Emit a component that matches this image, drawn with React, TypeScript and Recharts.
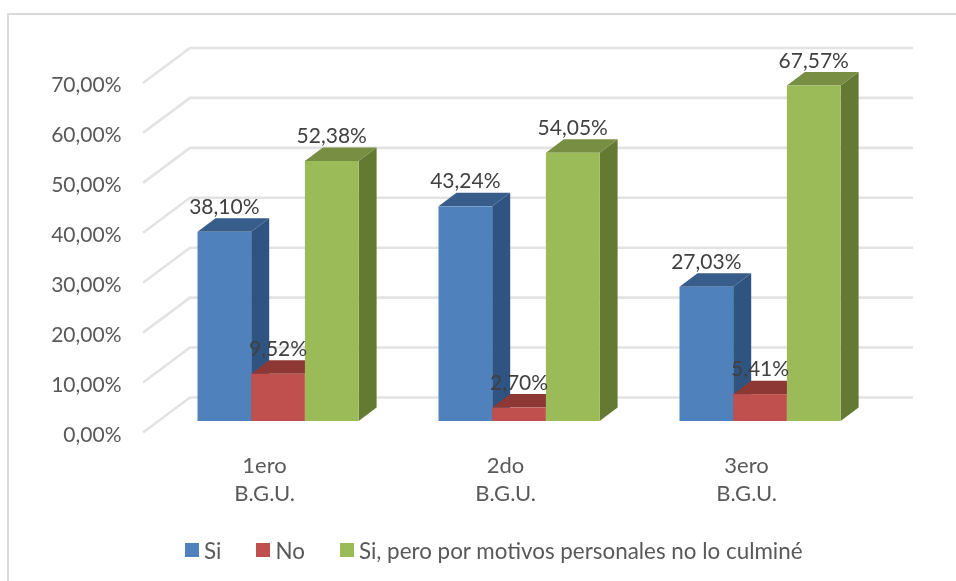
import React from 'react';
import { Bar, BarChart, CartesianGrid, LabelList, Legend, XAxis, YAxis } from 'recharts';

const categories = ['1ero B.G.U.', '2do B.G.U.', '3ero B.G.U.'];
const siValues = [38.1, 43.24, 27.03];
const noValues = [9.52, 2.7, 5.41];
const siPeroValues = [52.38, 54.05, 67.57];
const yTicks = [0, 10, 20, 30, 40, 50, 60, 70];

const seriesNames = ['Si', 'No', 'Si, pero por motivos personales no lo culminé'];

const FONT = 'Lato, sans-serif';
const BAR_DX = 18;
const BAR_DY = 13.5;
const FLOOR_Y = 421;
// the walls are very slightly taller than the bars in the original
const WALL_STRETCH = 1.0058;

const data = categories.map((name, i) => ({
  name,
  si: siValues[i],
  no: noValues[i],
  siPero: siPeroValues[i],
}));

const formatPct = (v: number) => v.toFixed(2).replace('.', ',') + '%';
const wallY = (y: number) => FLOOR_Y - (FLOOR_Y - y) * WALL_STRETCH;

// front face + top + right side, to fake the excel 3d column
function Box3D(props: any) {
  const { x, y, width, height, fill, topFill, sideFill } = props;
  const r = x + width;
  const b = y + height;
  return (
    <g>
      <polygon points={`${r},${y} ${r + BAR_DX},${y - BAR_DY} ${r + BAR_DX},${b - BAR_DY} ${r},${b}`} fill={sideFill} />
      <polygon points={`${x},${y} ${x + BAR_DX},${y - BAR_DY} ${r + BAR_DX},${y - BAR_DY} ${r},${y}`} fill={topFill} />
      <rect x={x} y={y} width={width} height={height} fill={fill} />
    </g>
  );
}

// wall gridline: diagonal on the side wall and then along the back wall
function WallLine(props: any) {
  const { x1, x2, y1 } = props;
  const w = wallY(y1);
  const points = `${x1 - 14.5},${w + 11.5} ${x1 + 32.5},${w - 23.5} ${x2 + 32.5},${w - 23.5}`;
  return <polyline key={y1} points={points} fill="none" stroke="#e3e3e3" strokeWidth={2.6} />;
}

function YTick(props: any) {
  const { x, y, payload } = props;
  return (
    <text x={x - 28} y={wallY(y) + 21} textAnchor="end" fontFamily={FONT} fontSize={21} fill="#595959">
      {formatPct(payload.value)}
    </text>
  );
}

function XTick(props: any) {
  const { x, y, payload } = props;
  const parts = String(payload.value).split(' ');
  return (
    <text textAnchor="middle" fontFamily={FONT} fontSize={22} fill="#595959">
      <tspan x={x - 13.5} y={y + 44}>{parts[0]}</tspan>
      <tspan x={x - 13.5} y={y + 72}>{parts[1]}</tspan>
    </text>
  );
}

function LegendRow(props: any) {
  return (
    <div style={{ display: 'flex', alignItems: 'center', height: 34, fontFamily: FONT, fontSize: 22.4, color: '#595959' }}>
      {props.payload.map((item: any) => (
        <div key={item.value} style={{ display: 'flex', alignItems: 'center', marginRight: 35 }}>
          <span style={{ width: 14, height: 14, background: item.color, marginRight: 5 }} />
          <span>{item.value}</span>
        </div>
      ))}
    </div>
  );
}

export default function App() {
  return (
    <div style={{ position: 'absolute', left: 0, top: 0, width: 956, height: 581, background: '#fff', filter: 'blur(0.45px)' }}>
      <div style={{ position: 'absolute', left: 7, top: 13, right: 0, bottom: 0, borderLeft: '2px solid #dcdcdc', borderTop: '2px solid #d9d9d9' }} />
      <BarChart
        width={956}
        height={581}
        data={data}
        margin={{ top: 73.5, right: 75.5, bottom: 14, left: 0 }}
        barSize={53.7}
        barGap={0}
        style={{ position: 'absolute', left: 0, top: 0 }}
      >
        <CartesianGrid vertical={false} horizontal={(p: any) => <WallLine {...p} />} />
        <XAxis dataKey="name" axisLine={false} tickLine={false} height={112} tick={<XTick />} interval={0} />
        <YAxis width={157.5} domain={[0, 70]} ticks={yTicks} axisLine={false} tickLine={false} tick={<YTick />} />
        <Legend
          verticalAlign="bottom"
          content={<LegendRow />}
          itemSorter={null}
          wrapperStyle={{ left: 185, width: 720 }}
        />
        <Bar
          dataKey="si"
          name={seriesNames[0]}
          fill="#4f81bd"
          isAnimationActive={false}
          shape={(p: any) => <Box3D {...p} topFill="#385d8a" sideFill="#2f5482" />}
        >
          <LabelList dataKey="si" position="top" offset={18} formatter={formatPct} fontFamily={FONT} fontSize={21} fill="#404040" />
        </Bar>
        <Bar
          dataKey="no"
          name={seriesNames[1]}
          fill="#c0504d"
          isAnimationActive={false}
          shape={(p: any) => <Box3D {...p} topFill="#8e3836" sideFill="#8a3533" />}
        >
          <LabelList dataKey="no" position="top" offset={18} formatter={formatPct} fontFamily={FONT} fontSize={21} fill="#404040" />
        </Bar>
        <Bar
          dataKey="siPero"
          name={seriesNames[2]}
          fill="#9bbb59"
          isAnimationActive={false}
          shape={(p: any) => <Box3D {...p} topFill="#778e43" sideFill="#647a33" />}
        >
          <LabelList dataKey="siPero" position="top" offset={18} formatter={formatPct} fontFamily={FONT} fontSize={21} fill="#404040" />
        </Bar>
      </BarChart>
    </div>
  );
}
